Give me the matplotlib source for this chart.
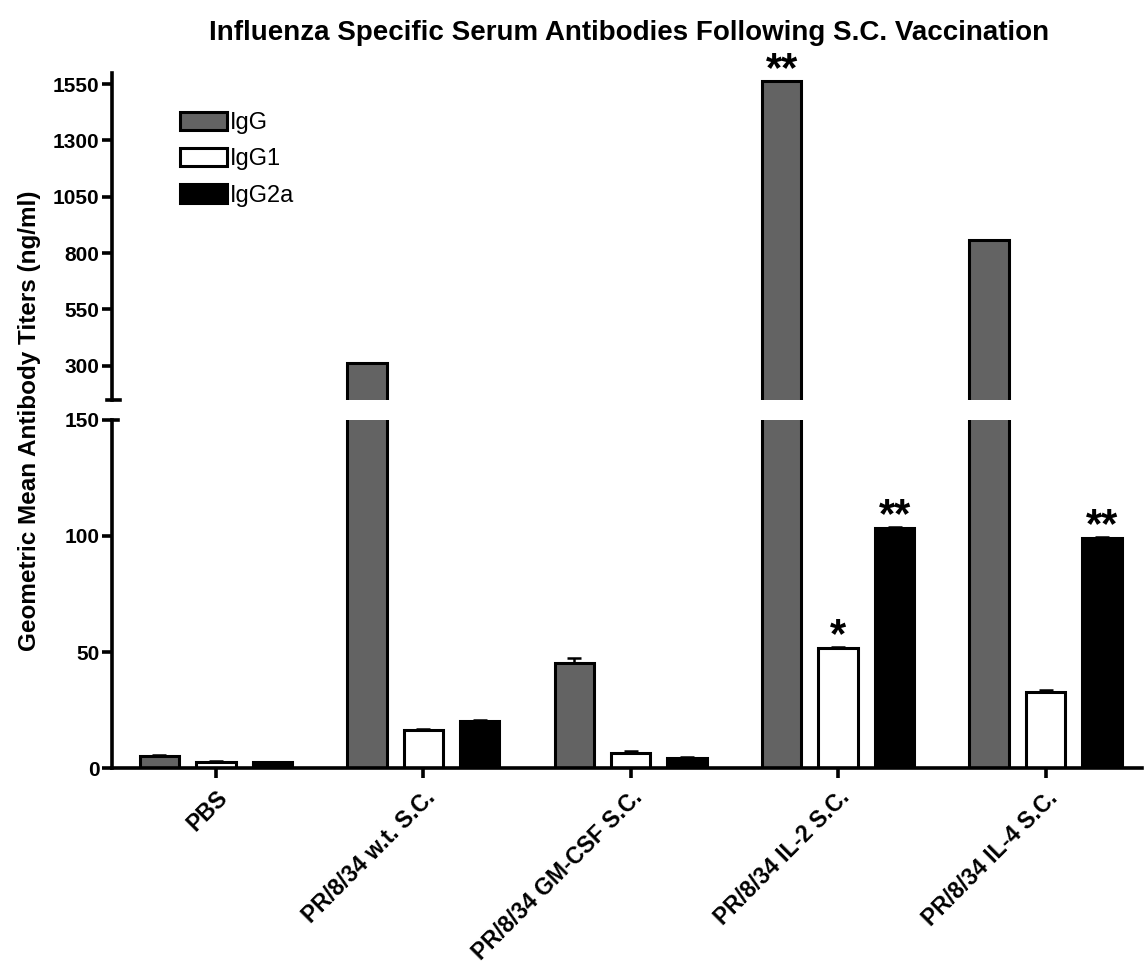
import numpy as np
import matplotlib
matplotlib.use('Agg')
import matplotlib.pyplot as plt
from matplotlib.patches import Patch

# Data
groups = ['PBS', 'PR/8/34 w.t. S.C.', 'PR/8/34 GM-CSF S.C.', 'PR/8/34 IL-2 S.C.', 'PR/8/34 IL-4 S.C.']
series = ['IgG', 'IgG1', 'IgG2a']
igg = [5.2, 313, 45.3, 1563, 858]
igg1 = [2.6, 16.4, 6.5, 51.7, 32.8]
igg2a = [2.6, 20.3, 4.3, 103.4, 99.1]
igg_err = [0.3, 0, 2.0, 0, 0]
igg1_err = [0.3, 0.4, 0.7, 0.6, 0.9]
igg2a_err = [0.2, 0.6, 0.3, 0.6, 0.6]
# significance marks: (group index, series index, text)
stars = [(3, 0, '**'), (3, 1, '*'), (3, 2, '**'), (4, 2, '**')]

lower_ticks = [0, 50, 100, 150]
upper_ticks = [300, 550, 800, 1050, 1300, 1550]


def main():
	plt.rcParams['font.family'] = ['Liberation Sans', 'DejaVu Sans']

	fig = plt.figure(figsize=(11.45, 9.71), dpi=100)
	ax_lo = fig.add_axes([0.0978, 0.209, 0.9, 0.3585])
	ax_hi = fig.add_axes([0.0978, 0.5885, 0.9, 0.3365])

	colors = ['#636363', 'white', 'black']
	values = [igg, igg1, igg2a]
	errors = [igg_err, igg1_err, igg2a_err]
	x = np.arange(len(groups))
	step, width = 0.272, 0.19

	# Same bars drawn on both halves of the broken axis
	for ax in (ax_lo, ax_hi):
		for i in range(3):
			pos = x + (i - 1) * step
			ax.bar(pos, values[i], width, color=colors[i], edgecolor='black', linewidth=2.2, zorder=2)
			# upper error bars only, where there is one
			err = np.array(errors[i])
			m = err > 0
			ax.errorbar(pos[m], np.array(values[i])[m], yerr=[np.zeros(m.sum()), err[m]], fmt='none',
				ecolor='black', elinewidth=1.8, capsize=5, capthick=1.8, zorder=3)

	# Axis ranges
	ax_lo.set_ylim(0, 150)
	ax_hi.set_ylim(150, 1600)
	for ax in (ax_lo, ax_hi):
		ax.set_xlim(-0.501, 4.467)
		ax.spines['top'].set_visible(False)
		ax.spines['right'].set_visible(False)
		ax.spines['left'].set_linewidth(2.6)
		ax.spines['bottom'].set_linewidth(2.6)
		ax.tick_params(axis='y', length=7, width=2.6, pad=2)

	ax_hi.spines['bottom'].set_visible(False)
	ax_hi.set_xticks([])
	ax_hi.set_yticks(upper_ticks)
	ax_hi.set_yticklabels([str(t) for t in upper_ticks], fontweight='bold', fontsize=15)

	ax_lo.set_yticks(lower_ticks)
	ax_lo.set_yticklabels([str(t) for t in lower_ticks], fontweight='bold', fontsize=15)
	ax_lo.set_xticks(x)
	ax_lo.set_xticklabels(groups, rotation=45, ha='right', va='top', rotation_mode='anchor',
		fontweight='bold', fontsize=16.5)
	ax_lo.tick_params(axis='x', length=7, width=2.6, pad=6)

	# Break marks on the y axis
	ax_hi.plot([-0.005, 0.008], [0, 0], transform=ax_hi.transAxes, color='black', lw=2.6, clip_on=False)
	ax_lo.plot([0, 0.006], [1, 1], transform=ax_lo.transAxes, color='black', lw=2.6, clip_on=False)

	# Significance stars
	for g, s, txt in stars:
		val = values[s][g] + errors[s][g]
		ax = ax_lo if val < 150 else ax_hi
		ax.annotate(txt, (x[g] + (s - 1) * step, val), xytext=(0, 0), textcoords='offset points',
			ha='center', va='baseline', fontsize=30, fontweight='bold', annotation_clip=False)

	# Legend
	handles = [Patch(facecolor=c, edgecolor='black', linewidth=2.2) for c in colors]
	ax_hi.legend(handles, series, loc='upper left', bbox_to_anchor=(0.157, 0.885), bbox_transform=fig.transFigure,
		frameon=False, fontsize=17, handlelength=2.0, handleheight=0.8, handletextpad=0.13, labelspacing=0.6,
		borderaxespad=0, borderpad=0)

	# Titles
	fig.text(0.549, 0.966, 'Influenza Specific Serum Antibodies Following S.C. Vaccination', ha='center', va='center',
		fontsize=20, fontweight='bold')
	fig.text(0.026, 0.567, 'Geometric Mean Antibody Titers (ng/ml)', rotation=90, ha='center', va='center',
		fontsize=17.5, fontweight='bold')

	fig.savefig('out.png', dpi=100)


if __name__ == '__main__':
	main()
